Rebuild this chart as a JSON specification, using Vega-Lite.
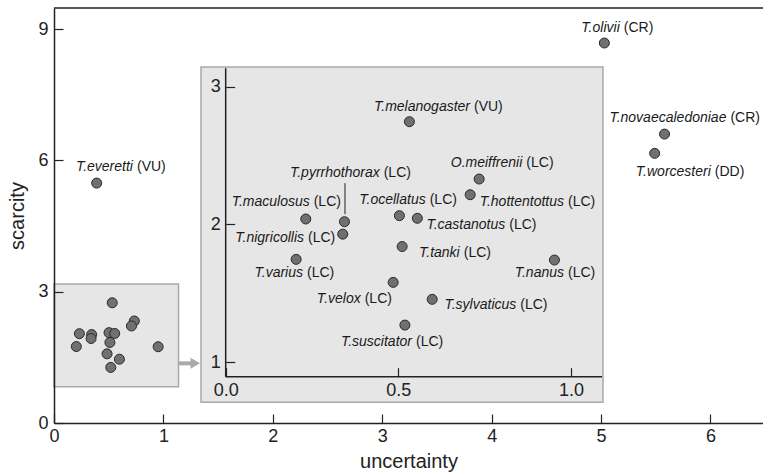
{
  "$schema": "https://vega.github.io/schema/vega-lite/v6.json",
  "width": 709,
  "height": 415,
  "autosize": {"type": "none"},
  "padding": {"left": 54, "top": 8, "right": 0, "bottom": 49},
  "config": {
    "view": {"stroke": null},
    "font": "Liberation Sans",
    "axis": {
      "grid": false,
      "labelFont": "Liberation Sans",
      "labelFontSize": 18,
      "labelColor": "#222222",
      "titleFont": "Liberation Sans",
      "titleFontSize": 20,
      "titleFontWeight": "normal",
      "titleColor": "#222222",
      "domainColor": "#222222",
      "domainWidth": 1.5,
      "tickColor": "#222222",
      "tickWidth": 1.2,
      "tickSize": -9,
      "labelFlush": false,
      "labelOverlap": false
    }
  },
  "datasets": {
    "birds": [
      {"name": "T.melanogaster", "status": "(VU)", "u": 0.532, "s": 2.746, "lu": 0.7133, "ls": 2.855},
      {"name": "O.meiffrenii", "status": "(LC)", "u": 0.734, "s": 2.33, "lu": 0.8648, "ls": 2.444},
      {"name": "T.hottentottus", "status": "(LC)", "u": 0.708, "s": 2.216, "lu": 0.9855, "ls": 2.161},
      {"name": "T.maculosus", "status": "(LC)", "u": 0.232, "s": 2.04, "lu": 0.2491, "ls": 2.165},
      {"name": "T.pyrrhothorax", "status": "(LC)", "u": 0.344, "s": 2.02, "lu": 0.4518, "ls": 2.372},
      {"name": "T.nigricollis", "status": "(LC)", "u": 0.339, "s": 1.93, "lu": 0.2326, "ls": 1.9},
      {"name": "T.ocellatus", "status": "(LC)", "u": 0.503, "s": 2.064, "lu": 0.585, "ls": 2.178},
      {"name": "T.castanotus", "status": "(LC)", "u": 0.555, "s": 2.045, "lu": 0.8155, "ls": 1.996},
      {"name": "T.tanki", "status": "(LC)", "u": 0.511, "s": 1.84, "lu": 0.6835, "ls": 1.791},
      {"name": "T.varius", "status": "(LC)", "u": 0.204, "s": 1.747, "lu": 0.2297, "ls": 1.646},
      {"name": "T.nanus", "status": "(LC)", "u": 0.952, "s": 1.742, "lu": 0.9855, "ls": 1.646},
      {"name": "T.velox", "status": "(LC)", "u": 0.485, "s": 1.58, "lu": 0.3968, "ls": 1.459},
      {"name": "T.sylvaticus", "status": "(LC)", "u": 0.598, "s": 1.457, "lu": 0.8474, "ls": 1.416},
      {"name": "T.suscitator", "status": "(LC)", "u": 0.519, "s": 1.27, "lu": 0.5453, "ls": 1.149},
      {"name": "T.everetti", "status": "(VU)", "u": 0.39, "s": 5.48, "lu": 0.74, "ls": 5.854},
      {"name": "T.olivii", "status": "(CR)", "u": 5.03, "s": 8.68, "lu": 5.189, "ls": 9.015},
      {"name": "T.novaecaledoniae", "status": "(CR)", "u": 5.58, "s": 6.6, "lu": 6.164, "ls": 6.96},
      {"name": "T.worcesteri", "status": "(DD)", "u": 5.49, "s": 6.16, "lu": 6.021, "ls": 5.74}
    ]
  },
  "layer": [
    {
      "data": {"values": [{"x1": 0, "x2": 1.138, "y1": 0.829, "y2": 3.175}]},
      "mark": {"type": "rect", "fill": "#e6e6e7", "stroke": "#a9a9a9", "strokeWidth": 1.5},
      "encoding": {
        "x": {"field": "x1", "type": "quantitative", "scale": {"domain": [0, 6.48], "nice": false, "zero": false},
          "axis": {"orient": "bottom", "title": "uncertainty", "values": [0, 1, 2, 3, 4, 5, 6], "labelPadding": 13, "titlePadding": 6, "zindex": 1}},
        "x2": {"field": "x2"},
        "y": {"field": "y1", "type": "quantitative", "scale": {"domain": [0, 9.48], "nice": false, "zero": false},
          "axis": {"orient": "left", "title": "scarcity", "values": [0, 3, 6, 9], "labelPadding": 15, "titlePadding": 10, "zindex": 1}},
        "y2": {"field": "y2"}
      }
    },
    {
      "data": {"values": [{"top": 9.48}]},
      "mark": {"type": "rule", "color": "#222222", "strokeWidth": 1.5},
      "encoding": {
        "y": {"field": "top", "type": "quantitative", "scale": {"domain": [0, 9.48], "nice": false, "zero": false}, "axis": null}
      }
    },
    {
      "data": {"values": [{"x1": 1.133, "x2": 1.262, "y": 1.363}]},
      "mark": {"type": "rule", "color": "#aaaaaa", "strokeWidth": 4},
      "encoding": {
        "x": {"field": "x1", "type": "quantitative", "scale": {"domain": [0, 6.48], "nice": false, "zero": false}, "axis": null},
        "x2": {"field": "x2"},
        "y": {"field": "y", "type": "quantitative", "scale": {"domain": [0, 9.48], "nice": false, "zero": false}, "axis": null}
      }
    },
    {
      "data": {"values": [{"x": 1.291, "y": 1.363}]},
      "mark": {"type": "point", "shape": "triangle-right", "filled": true, "color": "#aaaaaa", "size": 121, "opacity": 1},
      "encoding": {
        "x": {"field": "x", "type": "quantitative", "scale": {"domain": [0, 6.48], "nice": false, "zero": false}, "axis": null},
        "y": {"field": "y", "type": "quantitative", "scale": {"domain": [0, 9.48], "nice": false, "zero": false}, "axis": null}
      }
    },
    {
      "data": {"name": "birds"},
      "mark": {"type": "circle", "size": 100, "fill": "#707070", "stroke": "#2a2a2a", "strokeWidth": 1, "opacity": 1},
      "encoding": {
        "x": {"field": "u", "type": "quantitative", "scale": {"domain": [0, 6.48], "nice": false, "zero": false}, "axis": null},
        "y": {"field": "s", "type": "quantitative", "scale": {"domain": [0, 9.48], "nice": false, "zero": false}, "axis": null}
      }
    },
    {
      "data": {"name": "birds"},
      "transform": [{"filter": "datum.s > 3.2"}],
      "mark": {"type": "text", "font": "Liberation Sans", "fontStyle": "italic", "fontSize": 14, "align": "right", "baseline": "middle", "dx": -2, "color": "#1a1a1a"},
      "encoding": {
        "x": {"field": "lu", "type": "quantitative", "scale": {"domain": [0, 6.48], "nice": false, "zero": false}, "axis": null},
        "y": {"field": "ls", "type": "quantitative", "scale": {"domain": [0, 9.48], "nice": false, "zero": false}, "axis": null},
        "text": {"field": "name"}
      }
    },
    {
      "data": {"name": "birds"},
      "transform": [{"filter": "datum.s > 3.2"}],
      "mark": {"type": "text", "font": "Liberation Sans", "fontSize": 14, "align": "left", "baseline": "middle", "dx": 2, "color": "#1a1a1a"},
      "encoding": {
        "x": {"field": "lu", "type": "quantitative", "scale": {"domain": [0, 6.48], "nice": false, "zero": false}, "axis": null},
        "y": {"field": "ls", "type": "quantitative", "scale": {"domain": [0, 9.48], "nice": false, "zero": false}, "axis": null},
        "text": {"field": "status"}
      }
    },
    {
      "data": {"values": [{"x1": -0.0715, "x2": 1.0926, "y1": 0.71, "y2": 3.143}]},
      "mark": {"type": "rect", "fill": "#e6e6e7", "stroke": "#a9a9a9", "strokeWidth": 1.5},
      "encoding": {
        "x": {"field": "x1", "type": "quantitative", "scale": {"domain": [-0.4972, 1.556], "nice": false, "zero": false},
          "axis": {"orient": "bottom", "offset": -46.3, "domain": false, "title": null, "values": [0, 0.5, 1.0], "format": ".1f", "labelPadding": 13.5, "zindex": 2}},
        "x2": {"field": "x2"},
        "y": {"field": "y1", "type": "quantitative", "scale": {"domain": [0.5595, 3.571], "nice": false, "zero": false},
          "axis": {"orient": "left", "offset": -171.7, "domain": false, "title": null, "values": [1, 2, 3], "labelPadding": 14.5, "zindex": 2}},
        "y2": {"field": "y2"}
      }
    },
    {
      "data": {"values": [
        {"x1": 0, "x2": 0, "y1": 0.8955, "y2": 3.133},
        {"x1": 0, "x2": 1.09, "y1": 0.8955, "y2": 0.8955}
      ]},
      "mark": {"type": "rule", "color": "#222222", "strokeWidth": 1.5},
      "encoding": {
        "x": {"field": "x1", "type": "quantitative", "scale": {"domain": [-0.4972, 1.556], "nice": false, "zero": false}, "axis": null},
        "x2": {"field": "x2"},
        "y": {"field": "y1", "type": "quantitative", "scale": {"domain": [0.5595, 3.571], "nice": false, "zero": false}, "axis": null},
        "y2": {"field": "y2"}
      }
    },
    {
      "data": {"values": [{"x": 0.3455, "y1": 2.3, "y2": 2.075}]},
      "mark": {"type": "rule", "color": "#222222", "strokeWidth": 1},
      "encoding": {
        "x": {"field": "x", "type": "quantitative", "scale": {"domain": [-0.4972, 1.556], "nice": false, "zero": false}, "axis": null},
        "y": {"field": "y1", "type": "quantitative", "scale": {"domain": [0.5595, 3.571], "nice": false, "zero": false}, "axis": null},
        "y2": {"field": "y2"}
      }
    },
    {
      "data": {"name": "birds"},
      "transform": [{"filter": "datum.s < 3.2"}],
      "mark": {"type": "circle", "size": 100, "fill": "#707070", "stroke": "#2a2a2a", "strokeWidth": 1, "opacity": 1},
      "encoding": {
        "x": {"field": "u", "type": "quantitative", "scale": {"domain": [-0.4972, 1.556], "nice": false, "zero": false}, "axis": null},
        "y": {"field": "s", "type": "quantitative", "scale": {"domain": [0.5595, 3.571], "nice": false, "zero": false}, "axis": null}
      }
    },
    {
      "data": {"name": "birds"},
      "transform": [{"filter": "datum.s < 3.2"}],
      "mark": {"type": "text", "font": "Liberation Sans", "fontStyle": "italic", "fontSize": 14, "align": "right", "baseline": "middle", "dx": -2, "color": "#1a1a1a"},
      "encoding": {
        "x": {"field": "lu", "type": "quantitative", "scale": {"domain": [-0.4972, 1.556], "nice": false, "zero": false}, "axis": null},
        "y": {"field": "ls", "type": "quantitative", "scale": {"domain": [0.5595, 3.571], "nice": false, "zero": false}, "axis": null},
        "text": {"field": "name"}
      }
    },
    {
      "data": {"name": "birds"},
      "transform": [{"filter": "datum.s < 3.2"}],
      "mark": {"type": "text", "font": "Liberation Sans", "fontSize": 14, "align": "left", "baseline": "middle", "dx": 2, "color": "#1a1a1a"},
      "encoding": {
        "x": {"field": "lu", "type": "quantitative", "scale": {"domain": [-0.4972, 1.556], "nice": false, "zero": false}, "axis": null},
        "y": {"field": "ls", "type": "quantitative", "scale": {"domain": [0.5595, 3.571], "nice": false, "zero": false}, "axis": null},
        "text": {"field": "status"}
      }
    }
  ],
  "resolve": {"scale": {"x": "independent", "y": "independent"}}
}
